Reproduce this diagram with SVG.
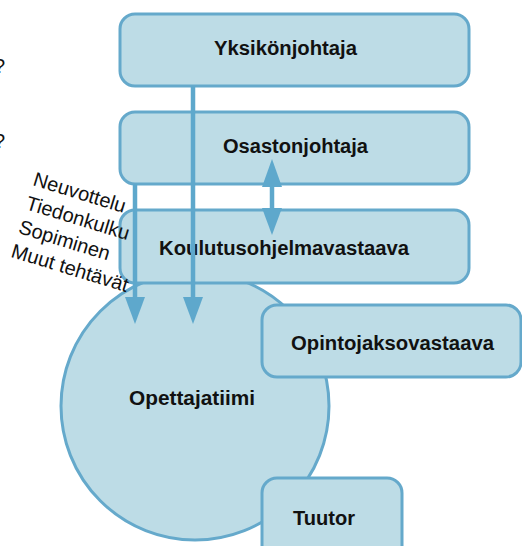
<svg xmlns="http://www.w3.org/2000/svg" width="522" height="546" viewBox="0 0 522 546">
<defs>
<style>
.box{fill:#bddce6;stroke:#65a9cb;stroke-width:3}
.lbl{font-family:"Liberation Sans",Arial,sans-serif;font-weight:bold;font-size:20px;fill:#111}
.side{font-family:"Liberation Sans",Arial,sans-serif;font-size:20px;fill:#111}
.ln{stroke:#5ea8cc;stroke-width:4.5;fill:none}
.hd{fill:#5ea8cc}
</style>
</defs>
<rect width="522" height="546" fill="#ffffff"/>
<g id="question-marks">
<text class="side" x="5" y="73" text-anchor="end">?</text>
<text class="side" x="5" y="148" text-anchor="end">?</text>
</g>
<g id="opettajatiimi">
<circle class="box" cx="195" cy="406" r="134"/>
<text class="lbl" x="129" y="405" textLength="126" lengthAdjust="spacingAndGlyphs">Opettajatiimi</text>
</g>
<g id="yksikonjohtaja">
<rect class="box" x="120" y="14" width="349" height="72" rx="15"/>
<text class="lbl" x="214" y="55" textLength="143" lengthAdjust="spacingAndGlyphs">Yksikönjohtaja</text>
</g>
<g id="osastonjohtaja">
<rect class="box" x="120" y="112" width="349" height="72" rx="15"/>
<text class="lbl" x="223" y="153" textLength="145" lengthAdjust="spacingAndGlyphs">Osastonjohtaja</text>
</g>
<g id="koulutusohjelmavastaava">
<rect class="box" x="120" y="210" width="349" height="73" rx="15"/>
<text class="lbl" x="159" y="255" textLength="250" lengthAdjust="spacingAndGlyphs">Koulutusohjelmavastaava</text>
</g>
<g id="opintojaksovastaava">
<rect class="box" x="262" y="305" width="259" height="72" rx="15"/>
<text class="lbl" x="291" y="350" textLength="203" lengthAdjust="spacingAndGlyphs">Opintojaksovastaava</text>
</g>
<g id="tuutor">
<rect class="box" x="262" y="478" width="140" height="90" rx="15"/>
<text class="lbl" x="293" y="525" textLength="62" lengthAdjust="spacingAndGlyphs">Tuutor</text>
</g>
<g id="side-labels">
<text class="side" transform="translate(32,185) rotate(17)">
<tspan x="0" y="0">Neuvottelu</tspan>
<tspan x="0" y="25">Tiedonkulku</tspan>
<tspan x="0" y="50">Sopiminen</tspan>
<tspan x="0" y="75">Muut tehtävät</tspan>
</text>
</g>
<g id="connectors">
<line class="ln" x1="193" y1="86" x2="193" y2="300"/>
<polygon class="hd" points="183,297 203,297 193,324"/>
<line class="ln" x1="135" y1="184" x2="135" y2="300"/>
<polygon class="hd" points="125,297 145,297 135,324"/>
<line class="ln" x1="272" y1="185" x2="272" y2="210"/>
<polygon class="hd" points="262,187 282,187 272,159"/>
<polygon class="hd" points="262,208 282,208 272,235"/>
</g>
</svg>
